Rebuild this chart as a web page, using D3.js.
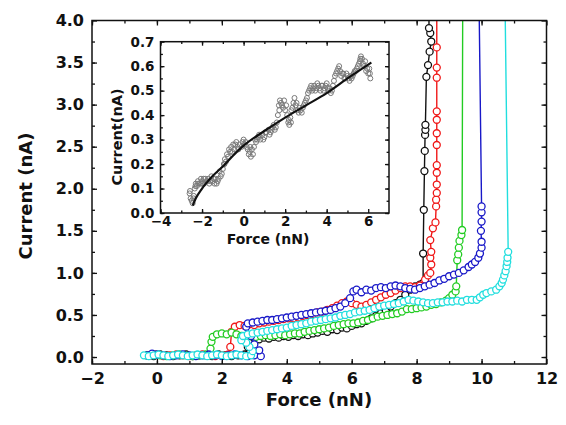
<!DOCTYPE html>
<html>
<head>
<meta charset="utf-8">
<script src="https://cdn.jsdelivr.net/npm/d3@7"></script>
<style>body{margin:0;background:#fff}</style>
</head>
<body>
<script>
// values: [force (nN), current (nA)]
var blackData = [[-0.3,.02],[-0.1,.01],[0.1,.03],[0.3,.02],[0.5,.01],[0.7,.02],[0.9,.03],[1.1,.01],[1.3,.02],[1.5,.02],[1.7,.01],[1.9,.03],[2.1,.02],[2.3,.01],[2.5,.02],[2.7,.03],
  [2.8,.12],[2.85,.2],[3.0,.22],[3.15,.21],[3.3,.23],[3.45,.22],[3.6,.24],[3.75,.23],[3.9,.25],[4.05,.24],[4.2,.26],[4.35,.25],[4.5,.27],[4.65,.26],[4.8,.28],[4.95,.29],[5.1,.31],[5.25,.3],[5.4,.33],[5.55,.32],[5.7,.35],[5.85,.34],[6.0,.37],[6.15,.39],[6.3,.4],[6.45,.43],[6.6,.46],[6.75,.49],[6.9,.52],[7.05,.55],[7.2,.6],[7.35,.64],[7.5,.68],[7.65,.74],[7.8,.8],[7.95,.84],[8.1,.86],[8.2,.88],
  [8.2,1.23],[8.22,1.75],[8.24,2.21],[8.25,2.45],[8.26,2.64],[8.27,2.7],[8.27,2.76],[8.3,3.33],[8.35,3.47],[8.4,3.63],[8.45,3.75],[8.42,3.85],[8.38,3.91],[8.38,4.3]];

var redData = [[-0.2,.02],[0.0,.03],[0.2,.01],[0.4,.02],[0.6,.03],[0.8,.02],[1.0,.01],[1.2,.02],[1.4,.03],[1.6,.02],[1.8,.01],[2.0,.02],[2.2,.03],
  [2.26,.12],[2.3,.3],[2.4,.36],[2.55,.38],[2.7,.37],[2.85,.39],[3.0,.38],[3.15,.4],[3.3,.41],[3.45,.42],[3.6,.43],[3.75,.44],[3.9,.45],[4.05,.46],[4.2,.46],[4.35,.47],[4.5,.49],[4.65,.5],[4.8,.51],[4.95,.53],[5.1,.54],[5.25,.56],[5.4,.58],[5.55,.61],[5.7,.64],[5.85,.66],[6.0,.64],[6.15,.62],[6.3,.6],[6.45,.62],[6.6,.65],[6.75,.68],[6.9,.71],[7.05,.74],[7.2,.76],[7.35,.79],[7.5,.82],[7.65,.84],[7.8,.84],[7.95,.83],[8.1,.85],[8.26,.92],[8.35,.97],[8.42,1.0],[8.45,1.1],[8.42,1.18],[8.45,1.25],[8.42,1.39],[8.5,1.53],[8.58,1.6],
  [8.6,1.79],[8.6,1.87],[8.62,1.95],[8.62,2.05],[8.62,2.19],[8.62,2.28],[8.62,2.52],[8.62,2.66],[8.62,2.82],[8.62,2.92],[8.62,3.32],[8.62,3.44],[8.62,3.68],[8.62,4.3]];

var greenData = [[-0.3,.02],[-0.1,.03],[0.1,.02],[0.3,.01],[0.5,.02],[0.7,.03],[0.9,.02],[1.1,.01],[1.3,.02],[1.5,.03],[1.6,.02],
  [1.65,.1],[1.68,.18],[1.72,.24],[1.85,.27],[2.0,.28],[2.15,.27],[2.3,.29],[2.45,.27],[2.6,.25],[2.75,.24],[2.9,.25],[3.05,.24],[3.2,.25],[3.35,.26],[3.5,.25],[3.65,.26],[3.8,.27],[3.95,.26],[4.1,.27],[4.25,.28],[4.4,.28],[4.55,.3],[4.7,.31],[4.85,.32],[5.0,.33],[5.15,.34],[5.3,.35],[5.45,.37],[5.6,.38],[5.75,.39],[5.9,.4],[6.05,.4],[6.2,.41],[6.35,.43],[6.5,.44],[6.65,.46],[6.8,.48],[6.95,.49],[7.1,.5],[7.25,.51],[7.4,.52],[7.55,.54],[7.7,.57],[7.85,.57],[8.0,.58],[8.15,.59],[8.3,.6],[8.45,.62],[8.6,.63],[8.75,.65],[8.9,.67],[9.0,.7],[9.1,.74],[9.2,.78],[9.22,.84],
  [9.25,1.15],[9.28,1.22],[9.3,1.3],[9.32,1.38],[9.38,1.45],[9.4,1.51],[9.42,4.3]];

var blueData = [[-0.3,.02],[-0.15,.04],[0.0,.03],[0.2,.02],[0.4,.01],[0.6,.02],[0.8,.03],[1.0,.02],[1.2,.01],[1.4,.02],[1.6,.03],[1.8,.02],[2.0,.01],[2.2,.02],[2.4,.03],[2.6,.02],[2.8,.01],[3.0,.02],[3.2,.01],
  [3.15,.08],[3.0,.15],[2.9,.25],[2.75,.36],[2.8,.4],[2.95,.41],[3.1,.42],[3.25,.43],[3.4,.44],[3.55,.44],[3.7,.45],[3.85,.46],[4.0,.47],[4.15,.48],[4.3,.49],[4.45,.5],[4.6,.51],[4.75,.52],[4.9,.53],[5.05,.54],[5.2,.55],[5.35,.56],[5.5,.58],[5.65,.6],[5.8,.64],[5.95,.7],[6.05,.78],[6.15,.8],[6.3,.77],[6.45,.8],[6.6,.79],[6.75,.82],[6.9,.83],[7.05,.82],[7.2,.84],[7.35,.85],[7.5,.84],[7.65,.82],[7.8,.81],[7.95,.8],[8.1,.82],[8.25,.84],[8.4,.86],[8.55,.88],[8.7,.91],[8.85,.93],[9.0,.96],[9.15,.98],[9.3,1.0],[9.45,1.03],[9.6,1.07],[9.7,1.1],[9.8,1.13],[9.9,1.18],[9.95,1.23],[10.0,1.3],[10.0,1.37],[9.98,1.5],[10.0,1.61],[10.0,1.72],[10.0,1.79],[9.92,4.3]];

var cyanData = [[-0.4,.02],[-0.25,.01],[-0.1,.02],[0.05,.03],[0.2,.02],[0.35,.01],[0.5,.02],[0.65,.03],[0.8,.02],[0.95,.01],[1.1,.02],[1.25,.03],[1.4,.02],[1.55,.01],[1.7,.02],[1.85,.03],[2.0,.02],[2.15,.01],[2.3,.02],[2.45,.03],[2.6,.02],[2.75,.01],[2.9,.02],
  [2.95,.07],[2.85,.12],[2.75,.17],[2.6,.2],[2.65,.25],[2.8,.27],[2.95,.28],[3.1,.29],[3.25,.3],[3.4,.31],[3.55,.32],[3.7,.33],[3.85,.34],[4.0,.35],[4.15,.37],[4.3,.38],[4.45,.39],[4.6,.4],[4.75,.42],[4.9,.43],[5.05,.44],[5.2,.45],[5.35,.46],[5.5,.47],[5.65,.49],[5.8,.5],[5.95,.51],[6.1,.53],[6.25,.54],[6.4,.55],[6.55,.56],[6.7,.58],[6.85,.6],[7.0,.61],[7.15,.62],[7.3,.63],[7.45,.64],[7.6,.66],[7.75,.68],[7.9,.67],[8.05,.66],[8.2,.65],[8.35,.64],[8.5,.64],[8.65,.65],[8.8,.65],[8.95,.66],[9.1,.66],[9.25,.67],[9.4,.66],[9.55,.68],[9.7,.68],[9.85,.68],[9.95,.71],[10.05,.74],[10.15,.76],[10.3,.78],[10.45,.8],[10.55,.84],[10.62,.88],[10.66,.92],[10.7,.97],[10.74,1.02],[10.77,1.08],[10.79,1.13],[10.8,1.18],[10.82,1.25],[10.72,4.3]];

// inset: measured points and fitted curve
var insetData = [[-2.6,.08],[-2.55,.06],[-2.5,.05],[-2.45,.04],[-2.4,.07],[-2.35,.1],[-2.3,.12],[-2.25,.11],[-2.2,.13],[-2.1,.12],[-2.05,.14],[-2.0,.13],[-1.9,.12],[-1.85,.14],[-1.8,.13],[-1.7,.14],[-1.6,.13],[-1.55,.15],[-1.5,.13],[-1.4,.12],[-1.35,.14],[-1.3,.12],[-1.2,.14],[-1.1,.15],[-1.0,.18],[-0.95,.2],[-0.9,.22],[-0.85,.21],[-0.8,.24],[-0.7,.26],[-0.65,.25],[-0.6,.27],[-0.5,.28],[-0.45,.26],[-0.4,.28],[-0.3,.27],[-0.2,.28],[-0.1,.27],[0.0,.3],[0.05,.28],[0.1,.29],[0.2,.26],[0.25,.24],[0.3,.25],[0.35,.23],[0.4,.26],[0.5,.27],[0.55,.3],[0.6,.29],[0.7,.31],[0.8,.3],[0.9,.32],[1.0,.31],[1.1,.33],[1.2,.34],[1.3,.33],[1.4,.35],[1.5,.34],[1.6,.37],[1.7,.44],[1.75,.46],[1.8,.45],[1.9,.43],[1.95,.46],[2.0,.42],[2.1,.4],[2.15,.37],[2.2,.36],[2.25,.39],[2.3,.42],[2.4,.45],[2.45,.47],[2.5,.44],[2.6,.42],[2.7,.43],[2.8,.41],[2.9,.44],[3.0,.46],[3.1,.49],[3.2,.51],[3.3,.5],[3.4,.52],[3.5,.51],[3.6,.52],[3.7,.5],[3.8,.52],[3.9,.51],[4.0,.53],[4.1,.5],[4.2,.49],[4.3,.52],[4.4,.56],[4.5,.58],[4.6,.6],[4.65,.58],[4.7,.56],[4.8,.57],[4.9,.55],[5.0,.56],[5.1,.54],[5.2,.55],[5.3,.57],[5.4,.58],[5.5,.6],[5.6,.62],[5.65,.64],[5.7,.63],[5.8,.6],[5.9,.58],[6.0,.57],[6.05,.59],[6.1,.55],
  [-2.58,.09],[-2.42,.06],[-2.32,.11],[-2.18,.12],[-2.02,.12],[-1.92,.14],[-1.75,.13],[-1.65,.12],[-1.45,.14],[-1.25,.13],[-1.15,.17],[-1.05,.16],[-0.92,.2],[-0.75,.23],[-0.55,.25],[-0.35,.29],[-0.25,.26],[-0.05,.29],[0.15,.27],[0.32,.27],[0.45,.24],[0.65,.3],[0.75,.32],[0.95,.3],[1.05,.33],[1.25,.32],[1.35,.34],[1.45,.36],[1.55,.35],[1.65,.4],[1.72,.42],[1.85,.44],[2.05,.44],[2.18,.38],[2.28,.37],[2.35,.43],[2.55,.45],[2.65,.41],[2.75,.42],[2.85,.43],[2.95,.45],[3.05,.47],[3.15,.5],[3.25,.52],[3.35,.51],[3.45,.5],[3.55,.53],[3.65,.51],[3.75,.52],[3.85,.5],[3.95,.52],[4.05,.51],[4.15,.51],[4.25,.5],[4.35,.54],[4.45,.57],[4.55,.59],[4.75,.57],[4.85,.55],[4.95,.57],[5.05,.55],[5.15,.56],[5.25,.56],[5.35,.58],[5.45,.59],[5.55,.61],[5.62,.63],[5.75,.61],[5.85,.62],[5.95,.59],[6.08,.57]];
var insetFit = [[-2.45,.03],[-2.3,.06],[-2.0,.1],[-1.5,.15],[-1.0,.19],[-0.5,.235],[0,.275],[1,.335],[2,.39],[3,.44],[4,.49],[5,.55],[6.15,.615]];

var mainXTicks = [-2,0,2,4,6,8,10,12];
var mainYTicks = [0,0.5,1,1.5,2,2.5,3,3.5,4];
var insetXTicks = [-4,-2,0,2,4,6];
var insetYTicks = [0,0.1,0.2,0.3,0.4,0.5,0.6,0.7];

var FONT = "'DejaVu Sans', Arial, sans-serif";

var svg = d3.select("body").append("svg")
  .attr("width", 566)
  .attr("height", 425);
svg.append("rect").attr("width", 566).attr("height", 425).attr("fill", "#fff");

// ---- main plot
var x = d3.scaleLinear().domain([-2, 12]).range([92, 546.5]);
var y = d3.scaleLinear().domain([-0.083, 4]).range([364, 20.5]);

function frameAxes(g, x, y, o) {
  var x0 = x.range()[0], x1 = x.range()[1], y0 = y.range()[0], y1 = y.range()[1];
  var minorX = d3.range(o.xTicks[0], o.xTicks[o.xTicks.length-1], o.xMinor);
  var minorY = d3.range(o.yTicks[0], o.yTicks[o.yTicks.length-1], o.yMinor);
  function put(axis, tr) {
    var a = g.append("g").attr("transform", tr).call(axis);
    a.select(".domain").remove();
    a.selectAll("line").attr("stroke", "#111").attr("stroke-width", 1.3);
    a.selectAll("text").attr("font-family", FONT).attr("font-weight", "bold")
      .attr("font-size", o.fs).attr("fill", "#111");
    return a;
  }
  put(d3.axisBottom(x).tickValues(o.xTicks).tickSize(-o.tl).tickPadding(o.padX).tickFormat(d3.format("d")), "translate(0," + y0 + ")");
  put(d3.axisBottom(x).tickValues(minorX).tickSize(-o.tl * 0.6).tickFormat(""), "translate(0," + y0 + ")");
  put(d3.axisTop(x).tickValues(o.xTicks).tickSize(-o.tl).tickFormat(""), "translate(0," + y1 + ")");
  put(d3.axisTop(x).tickValues(minorX).tickSize(-o.tl * 0.6).tickFormat(""), "translate(0," + y1 + ")");
  put(d3.axisLeft(y).tickValues(o.yTicks).tickSize(-o.tl).tickPadding(o.padY).tickFormat(d3.format(".1f")), "translate(" + x0 + ",0)");
  put(d3.axisLeft(y).tickValues(minorY).tickSize(-o.tl * 0.6).tickFormat(""), "translate(" + x0 + ",0)");
  put(d3.axisRight(y).tickValues(o.yTicks).tickSize(-o.tl).tickFormat(""), "translate(" + x1 + ",0)");
  put(d3.axisRight(y).tickValues(minorY).tickSize(-o.tl * 0.6).tickFormat(""), "translate(" + x1 + ",0)");
  g.append("rect")
    .attr("x", x0).attr("y", y1).attr("width", x1 - x0).attr("height", y0 - y1)
    .attr("fill", "none").attr("stroke", "#111").attr("stroke-width", 1.5);
}

svg.append("clipPath").attr("id", "clipMain")
  .append("rect").attr("x", 92).attr("y", 20.5).attr("width", 454.5).attr("height", 343.5);

var plot = svg.append("g").attr("clip-path", "url(#clipMain)");
var line = d3.line().x(function(d){ return x(d[0]); }).y(function(d){ return y(d[1]); });

var series = [
  {data: blackData, color: "#111111"},
  {data: redData, color: "#f01818"},
  {data: greenData, color: "#22cc22"},
  {data: blueData, color: "#1818c8"},
  {data: cyanData, color: "#20dede"}
];

series.forEach(function(s) {
  plot.append("path").datum(s.data)
    .attr("d", line)
    .attr("fill", "none")
    .attr("stroke", s.color)
    .attr("stroke-width", 1.4);
  plot.append("g").selectAll("circle")
    .data(s.data)
    .enter()
    .append("circle")
      .attr("cx", function(d){ return x(d[0]); })
      .attr("cy", function(d){ return y(d[1]); })
      .attr("r", 3.5)
      .attr("fill", "#fff")
      .attr("stroke", s.color)
      .attr("stroke-width", 1.3);
});

frameAxes(svg.append("g"), x, y, {xTicks: mainXTicks, yTicks: mainYTicks, xMinor: 1, yMinor: 0.25, tl: 5, fs: 16, padX: 9, padY: 8});

svg.append("text")
  .attr("x", 319).attr("y", 406)
  .attr("text-anchor", "middle")
  .attr("font-family", FONT).attr("font-weight", "bold").attr("font-size", 18)
  .attr("fill", "#111")
  .text("Force (nN)");

svg.append("text")
  .attr("transform", "translate(32,196) rotate(-90)")
  .attr("text-anchor", "middle")
  .attr("font-family", FONT).attr("font-weight", "bold").attr("font-size", 18)
  .attr("fill", "#111")
  .text("Current (nA)");

// ---- inset
var ix = d3.scaleLinear().domain([-4, 7]).range([160.5, 389]);
var iy = d3.scaleLinear().domain([0, 0.7]).range([213, 41.7]);

var inset = svg.append("g");
inset.append("rect")
  .attr("x", 160.5).attr("y", 41.7).attr("width", 228.5).attr("height", 171.3)
  .attr("fill", "#fff");

inset.append("g").selectAll("circle")
  .data(insetData)
  .enter()
  .append("circle")
    .attr("cx", function(d){ return ix(d[0]); })
    .attr("cy", function(d){ return iy(d[1]); })
    .attr("r", 2.5)
    .attr("fill", "none")
    .attr("stroke", "#7a7a7a")
    .attr("stroke-width", 1);

inset.append("path").datum(insetFit)
  .attr("d", d3.line().curve(d3.curveMonotoneX)
    .x(function(d){ return ix(d[0]); })
    .y(function(d){ return iy(d[1]); }))
  .attr("fill", "none")
  .attr("stroke", "#111")
  .attr("stroke-width", 2.2);

frameAxes(inset, ix, iy, {xTicks: insetXTicks, yTicks: insetYTicks, xMinor: 1, yMinor: 0.05, tl: 4, fs: 13.5, padX: 3, padY: 6});

inset.append("text")
  .attr("x", 268).attr("y", 244)
  .attr("text-anchor", "middle")
  .attr("font-family", FONT).attr("font-weight", "bold").attr("font-size", 14)
  .attr("fill", "#111")
  .text("Force (nN)");

inset.append("text")
  .attr("transform", "translate(122,137) rotate(-90)")
  .attr("text-anchor", "middle")
  .attr("font-family", FONT).attr("font-weight", "bold").attr("font-size", 14.5)
  .attr("fill", "#111")
  .text("Current(nA)");
</script>
</body>
</html>
